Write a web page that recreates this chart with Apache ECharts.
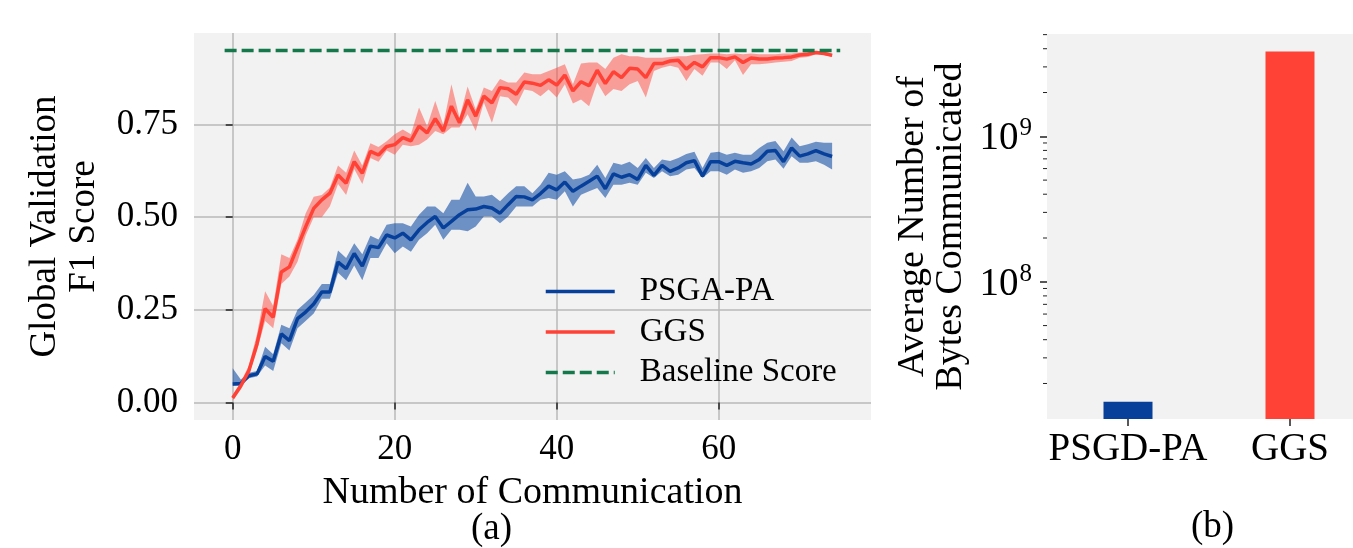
<!DOCTYPE html>
<html><head><meta charset="utf-8">
<script src="https://cdn.jsdelivr.net/npm/echarts@6/dist/echarts.min.js"></script>
<style>html,body{margin:0;padding:0;background:#fff}#c{width:1353px;height:548px}</style>
</head><body><div id="c"></div>
<script>
const rounds = [0,1,2,3,4,5,6,7,8,9,10,11,12,13,14,15,16,17,18,19,20,21,22,23,24,25,26,27,28,29,30,31,32,33,34,35,36,37,38,39,40,41,42,43,44,45,46,47,48,49,50,51,52,53,54,55,56,57,58,59,60,61,62,63,64,65,66,67,68,69,70,71,72,73,74];

const psgaMean = [0.050,0.051,0.072,0.077,0.124,0.111,0.185,0.167,0.226,0.244,0.266,0.298,0.298,0.379,0.361,0.402,0.368,0.422,0.418,0.452,0.444,0.457,0.439,0.466,0.486,0.502,0.471,0.489,0.507,0.520,0.522,0.529,0.525,0.511,0.534,0.556,0.555,0.547,0.564,0.584,0.574,0.595,0.570,0.584,0.597,0.611,0.577,0.617,0.608,0.615,0.602,0.640,0.613,0.640,0.624,0.633,0.647,0.653,0.611,0.650,0.650,0.640,0.651,0.647,0.644,0.656,0.678,0.680,0.650,0.687,0.665,0.671,0.680,0.671,0.664];
const psgaLow = [0.045,0.045,0.065,0.070,0.100,0.085,0.160,0.140,0.200,0.220,0.240,0.280,0.280,0.350,0.330,0.370,0.330,0.390,0.390,0.430,0.403,0.421,0.407,0.439,0.457,0.480,0.439,0.466,0.466,0.462,0.475,0.502,0.502,0.484,0.502,0.529,0.529,0.529,0.547,0.552,0.547,0.570,0.529,0.561,0.570,0.579,0.552,0.588,0.588,0.593,0.588,0.620,0.606,0.624,0.611,0.615,0.629,0.633,0.606,0.624,0.624,0.615,0.629,0.620,0.624,0.633,0.651,0.656,0.631,0.665,0.647,0.647,0.651,0.642,0.629];
const psgaHigh = [0.092,0.062,0.080,0.085,0.150,0.130,0.210,0.200,0.250,0.270,0.290,0.320,0.320,0.410,0.390,0.430,0.400,0.450,0.440,0.480,0.484,0.484,0.475,0.507,0.529,0.529,0.511,0.547,0.547,0.593,0.556,0.556,0.561,0.543,0.565,0.584,0.584,0.565,0.588,0.620,0.615,0.624,0.602,0.606,0.615,0.642,0.606,0.647,0.642,0.650,0.633,0.660,0.633,0.656,0.652,0.660,0.671,0.677,0.633,0.674,0.677,0.669,0.674,0.669,0.669,0.687,0.701,0.706,0.678,0.715,0.692,0.697,0.704,0.701,0.701];

const ggsMean = [0.012,0.045,0.086,0.158,0.253,0.230,0.352,0.366,0.420,0.474,0.524,0.547,0.565,0.614,0.592,0.650,0.619,0.678,0.668,0.691,0.696,0.715,0.706,0.746,0.728,0.766,0.733,0.800,0.755,0.817,0.773,0.827,0.809,0.850,0.847,0.832,0.865,0.862,0.856,0.871,0.857,0.884,0.841,0.866,0.855,0.897,0.861,0.893,0.877,0.902,0.900,0.877,0.915,0.915,0.922,0.924,0.900,0.918,0.906,0.931,0.931,0.927,0.933,0.918,0.930,0.927,0.927,0.930,0.931,0.933,0.938,0.940,0.945,0.942,0.937];
const ggsLow = [0.005,0.035,0.075,0.140,0.220,0.200,0.320,0.340,0.380,0.450,0.500,0.500,0.530,0.590,0.560,0.630,0.590,0.660,0.650,0.680,0.669,0.696,0.692,0.696,0.710,0.733,0.724,0.742,0.742,0.778,0.733,0.810,0.755,0.827,0.823,0.800,0.845,0.841,0.827,0.845,0.823,0.859,0.807,0.818,0.800,0.864,0.827,0.846,0.841,0.859,0.868,0.823,0.895,0.904,0.909,0.904,0.868,0.900,0.882,0.918,0.918,0.900,0.924,0.884,0.913,0.913,0.915,0.918,0.920,0.922,0.931,0.933,0.940,0.938,0.933];
const ggsHigh = [0.020,0.055,0.100,0.185,0.300,0.260,0.400,0.390,0.440,0.510,0.555,0.560,0.580,0.640,0.620,0.680,0.640,0.700,0.690,0.705,0.724,0.737,0.724,0.796,0.746,0.814,0.750,0.859,0.769,0.853,0.791,0.850,0.841,0.873,0.864,0.864,0.891,0.886,0.886,0.895,0.904,0.913,0.859,0.915,0.918,0.918,0.900,0.931,0.940,0.935,0.935,0.931,0.931,0.931,0.933,0.935,0.935,0.939,0.940,0.942,0.942,0.940,0.942,0.940,0.942,0.940,0.940,0.940,0.942,0.942,0.945,0.946,0.949,0.948,0.942];

const baselineX = [-1, 75];
const baselineScore = 0.95;

const xTicks = [0, 20, 40, 60];
const yTicks = [0, 0.25, 0.5, 0.75];

const barCats = ['PSGD-PA', 'GGS'];
const barBytes = [1.5e7, 3.83e9];
const logMajorTicks = [1e8, 1e9];
const logMinorTicks = [2e7,3e7,4e7,5e7,6e7,7e7,8e7,9e7,2e8,3e8,4e8,5e8,6e8,7e8,8e8,9e8,2e9,3e9,4e9,5e9];

const FONT = 'Liberation Serif';
const BLUE = '#07409a', RED = '#ff4136', GREEN = '#15784b';
const barColors = [BLUE, RED];

const pairs = ys => rounds.map((x, i) => [x, ys[i]]);

function bandSeries(name, lo, hi, color) {
  return {
    name: name, type: 'custom', xAxisIndex: 0, yAxisIndex: 0, silent: true, z: 1, clip: true,
    data: rounds.map((x, i) => [x, lo[i], hi[i]]),
    encode: {x: 0, y: [1, 2]},
    renderItem: (params, api) => {
      if (params.dataIndexInside !== 0) return null;
      const n = params.dataInsideLength;
      const top = [], bot = [];
      for (let j = 0; j < n; j++) {
        const x = api.value(0, j);
        top.push(api.coord([x, api.value(2, j)]));
        bot.push(api.coord([x, api.value(1, j)]));
      }
      return {type: 'polygon', shape: {points: top.concat(bot.reverse())}, style: {fill: color}};
    }
  };
}

const chart = echarts.init(document.getElementById('c'), null, {renderer: 'canvas'});
const tickStyle = {color: '#222', width: 1.5};
const option = {
  animation: false,
  textStyle: {fontFamily: FONT, color: '#000'},
  grid: [
    {left: 194, top: 33, width: 677, height: 387, show: true, backgroundColor: '#f2f2f2', borderWidth: 0, outerBoundsMode: 'none', containLabel: false},
    {left: 1047, top: 34, width: 324, height: 385, show: true, backgroundColor: '#f2f2f2', borderWidth: 0, outerBoundsMode: 'none', containLabel: false}
  ],
  legend: {
    data: ['PSGA-PA', 'GGS', 'Baseline Score'],
    orient: 'vertical', left: 539, top: 270,
    itemWidth: 69, itemHeight: 14, itemGap: 7.5,
    itemStyle: {opacity: 0},
    lineStyle: {width: 3.5},
    textStyle: {fontFamily: FONT, fontSize: 33, lineHeight: 33, color: '#000', padding: [0, 0, 0, 20]}
  },
  xAxis: [
    {
      type: 'value', gridIndex: 0, min: -4.78, max: 78.8, minInterval: 20, maxInterval: 20,
      axisLine: {show: false},
      axisTick: {show: true, length: 7, lineStyle: tickStyle, customValues: xTicks},
      axisLabel: {customValues: xTicks, fontSize: 35, margin: 12, color: '#000', fontFamily: FONT},
      splitLine: {show: true, lineStyle: {color: '#b9b9b9', width: 1.5}},
      name: 'Number of Communication', nameLocation: 'middle', nameGap: 54,
      nameTextStyle: {fontSize: 38, fontFamily: FONT, color: '#000'}
    },
    {
      type: 'category', gridIndex: 1, data: barCats,
      axisLine: {show: false},
      axisTick: {show: true, alignWithLabel: true, length: 7, lineStyle: tickStyle},
      axisLabel: {interval: 0, fontSize: 39, margin: 11, color: '#000', fontFamily: FONT},
      splitLine: {show: false}
    }
  ],
  yAxis: [
    {
      type: 'value', gridIndex: 0, min: -0.0475, max: 0.9975, minInterval: 0.25, maxInterval: 0.25,
      axisLine: {show: false},
      axisTick: {show: true, length: 7, lineStyle: tickStyle, customValues: yTicks},
      axisLabel: {customValues: yTicks, fontSize: 35, margin: 16, color: '#000', fontFamily: FONT,
                  formatter: v => v.toFixed(2)},
      splitLine: {show: true, lineStyle: {color: '#b9b9b9', width: 1.5}},
      name: 'Global Validation\nF1 Score', nameLocation: 'middle', nameRotate: 90, nameGap: 90,
      nameTextStyle: {fontSize: 37, lineHeight: 39, fontFamily: FONT, color: '#000', align: 'center'}
    },
    {
      type: 'log', gridIndex: 1, min: 1.14e7, max: 5.05e9, logBase: 10,
      axisLine: {show: false},
      axisTick: {show: true, length: 7, lineStyle: tickStyle, customValues: logMajorTicks},
      axisLabel: {customValues: logMajorTicks, margin: 15, color: '#000',
        formatter: v => '{b|10}{s|' + Math.round(Math.log10(v)) + '}',
        rich: {
          b: {fontSize: 39, fontFamily: FONT, color: '#000', lineHeight: 44, verticalAlign: 'bottom'},
          s: {fontSize: 25, fontFamily: FONT, color: '#000', lineHeight: 44, verticalAlign: 'top', padding: [2, 0, 0, 1]}
        }},
      splitLine: {show: false},
      name: 'Average Number of\nBytes Communicated', nameLocation: 'middle', nameRotate: 90, nameGap: 77,
      nameTextStyle: {fontSize: 38, lineHeight: 38, fontFamily: FONT, color: '#000', align: 'center'}
    }
  ],
  series: [
    bandSeries('psga-band', psgaLow, psgaHigh, 'rgba(0,65,160,0.55)'),
    bandSeries('ggs-band', ggsLow, ggsHigh, 'rgba(255,65,54,0.48)'),
    {name: 'PSGA-PA', type: 'line', xAxisIndex: 0, yAxisIndex: 0, data: pairs(psgaMean),
     symbol: 'none', color: BLUE, lineStyle: {color: BLUE, width: 3.5}, z: 3},
    {name: 'GGS', type: 'line', xAxisIndex: 0, yAxisIndex: 0, data: pairs(ggsMean),
     symbol: 'none', color: RED, lineStyle: {color: RED, width: 3.5}, z: 4},
    {name: 'Baseline Score', type: 'line', xAxisIndex: 0, yAxisIndex: 0,
     data: baselineX.map(x => [x, baselineScore]),
     symbol: 'none', color: GREEN, lineStyle: {color: GREEN, width: 3.5, type: [12, 5]}, z: 5},
    {name: 'bytes', type: 'bar', xAxisIndex: 1, yAxisIndex: 1, barWidth: 49,
     data: barBytes.map((v, i) => ({value: v, itemStyle: {color: barColors[i]}}))},
    {name: 'minor', type: 'custom', xAxisIndex: 1, yAxisIndex: 1, silent: true, clip: false, z: 10,
     data: logMinorTicks.map(v => [0, v]),
     renderItem: (params, api) => {
       const y = api.coord([0, api.value(1)])[1];
       const x0 = params.coordSys.x;
       return {type: 'line', shape: {x1: x0 - 4, y1: y, x2: x0, y2: y}, style: {stroke: '#222', lineWidth: 1}};
     }}
  ],
  graphic: [
    {type: 'text', left: 471, top: 511, style: {text: '(a)', font: '37px "Liberation Serif"', fill: '#000'}},
    {type: 'text', left: 1191, top: 509, style: {text: '(b)', font: '37px "Liberation Serif"', fill: '#000'}}
  ]
};
chart.setOption(option);
</script>
</body></html>
